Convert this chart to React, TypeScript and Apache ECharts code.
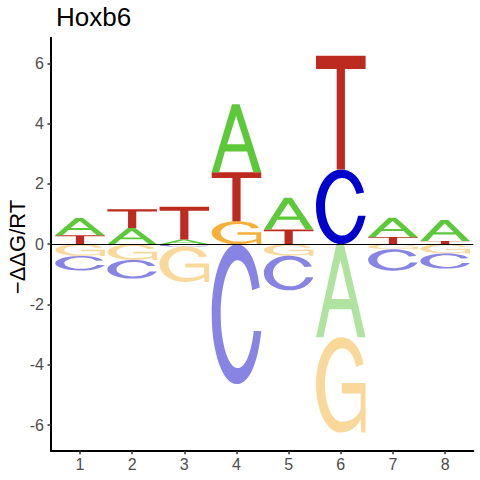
import React, { useEffect, useRef } from "react";
import * as echarts from "echarts";

// ---- data ----
const positions = [1, 2, 3, 4, 5, 6, 7, 8];
const letters = ["A", "C", "G", "T"];
const valuesA = [0.57, 0.54, 0.16, 2.25, 1.05, -3.09, 0.64, 0.69];
const valuesC = [-0.48, -0.62, -0.08, -4.64, -1.15, 2.48, -0.71, -0.5];
const valuesG = [-0.39, -0.52, -1.17, 0.76, -0.38, -3.16, -0.17, -0.31];
const valuesT = [0.3, 0.62, 1.08, 1.63, 0.49, 3.77, 0.24, 0.11];
const xTicks = [1, 2, 3, 4, 5, 6, 7, 8];
const yTicks = [-6, -4, -2, 0, 2, 4, 6];
const titleText = "Hoxb6";
const yTitle = "\u2212\u0394\u0394G/RT";

// ---- styles ----
const POS_COLORS = ["#5EC83B", "#0000CC", "#F6B03A", "#BD2A1F"];
const NEG_COLORS = ["#B0E3A0", "#8784E3", "#F9D89B", "#DE958E"];
const FONT = "'Liberation Sans', Arial, sans-serif";
const LETTER_W = 0.95;

const PATHS = [
  // A
  "M0,100 L41,0 L56.3,0 L100,100 L83.9,100 L71.4,69.7 L26.7,69.7 L15,100 Z M31.3,58.9 L67.5,58.9 L49.2,17 Z",
  // C
  "M96,31 C89,10 71,0 50,0 C22.4,0 0,22.4 0,50 C0,77.6 22.4,100 50,100 C74,100 92,86 99,62 L84,62 C79,78 67,88.5 52,88.5 C33,88.5 18,71 18,50 C18,29 33,11.5 52,11.5 C65,11.5 76,19 81,33 Z",
  // G
  "M96,28 C89,9 71,0 50,0 C22.4,0 0,22.4 0,50 C0,77.6 22.4,100 50,100 C68,100 84,94 90,86 L91,100 L100,100 L100,48 L52,48 L52,59 L90,59 L90,76 C84,84 70,88.5 52,88.5 C33,88.5 18,71 18,50 C18,29 33,11.5 52,11.5 C66,11.5 76,18 81,31 Z",
  // T
  "M0,0 L100,0 L100,11.7 L58.3,11.7 L58.3,100 L41.7,100 L41.7,11.7 L0,11.7 Z",
];

function buildStacks() {
  const all = [valuesA, valuesC, valuesG, valuesT];
  const items: number[][] = [];
  positions.forEach((p, i) => {
    const entries = all.map((arr, li) => ({ li, v: arr[i] }));
    const pos = entries.filter((e) => e.v > 0).sort((a, b) => a.v - b.v);
    const neg = entries.filter((e) => e.v < 0).sort((a, b) => b.v - a.v);
    let acc = 0;
    pos.forEach((e) => {
      items.push([p, acc, acc + e.v, e.li, 0]);
      acc += e.v;
    });
    acc = 0;
    neg.forEach((e) => {
      items.push([p, acc, acc + e.v, e.li, 1]);
      acc += e.v;
    });
  });
  return items;
}

export default function App() {
  const ref = useRef<HTMLDivElement>(null);
  useEffect(() => {
    if (!ref.current) return;
    const chart = echarts.init(ref.current, null, { renderer: "svg" });
    const data = buildStacks();
    chart.setOption({
      animation: false,
      backgroundColor: "#ffffff",
      grid: { left: 51, right: 6.7, top: 37.7, bottom: 29.3, containLabel: false },
      xAxis: {
        type: "value",
        min: 0.444,
        max: 8.54,
        axisLine: { show: true, onZero: false, lineStyle: { color: "#000", width: 2 } },
        axisTick: { show: true, customValues: xTicks, length: 3.5, lineStyle: { color: "#333", width: 1.5 } },
        axisLabel: {
          show: true,
          customValues: xTicks,
          fontSize: 16,
          fontFamily: FONT,
          color: "#4D4D4D",
          margin: 6,
          formatter: (v: number) => String(Math.round(v)),
        },
        splitLine: { show: false },
      },
      yAxis: {
        type: "value",
        min: -6.85,
        max: 6.85,
        axisLine: { show: true, onZero: false, lineStyle: { color: "#000", width: 2 } },
        axisTick: { show: true, customValues: yTicks, length: 3.5, lineStyle: { color: "#333", width: 1.5 } },
        axisLabel: {
          show: true,
          customValues: yTicks,
          fontSize: 16,
          fontFamily: FONT,
          color: "#4D4D4D",
          margin: 7,
          formatter: (v: number) => String(Math.round(v)),
        },
        splitLine: { show: false },
      },
      graphic: [
        {
          type: "text",
          x: 56,
          y: 16.5,
          style: { text: titleText, font: `26px ${FONT}`, fill: "#000", align: "left", verticalAlign: "middle" },
        },
        {
          type: "text",
          x: 17,
          y: 247,
          rotation: Math.PI / 2,
          style: { text: yTitle, font: `22px ${FONT}`, fill: "#000", align: "center", verticalAlign: "middle" },
        },
      ],
      series: [
        {
          type: "custom",
          data,
          encode: { x: 0, y: [1, 2] },
          clip: false,
          renderItem: (params: any, api: any) => {
            const p = api.value(0);
            const y0 = api.value(1);
            const y1 = api.value(2);
            const li = api.value(3);
            const neg = api.value(4);
            const tl = api.coord([p - LETTER_W / 2, Math.max(y0, y1)]);
            const br = api.coord([p + LETTER_W / 2, Math.min(y0, y1)]);
            return {
              type: "path",
              shape: {
                pathData: PATHS[li],
                x: tl[0],
                y: tl[1],
                width: br[0] - tl[0],
                height: br[1] - tl[1],
                layout: "cover",
              },
              style: { fill: neg ? NEG_COLORS[li] : POS_COLORS[li] },
            };
          },
          markLine: {
            silent: true,
            symbol: "none",
            label: { show: false },
            lineStyle: { color: "#000", width: 1, type: "solid" },
            data: [{ yAxis: 0 }],
          },
        },
      ],
    });
    return () => chart.dispose();
  }, []);
  return (
    <div
      ref={ref}
      style={{ position: "fixed", left: 0, top: 0, width: 480, height: 480, background: "#fff" }}
    />
  );
}
